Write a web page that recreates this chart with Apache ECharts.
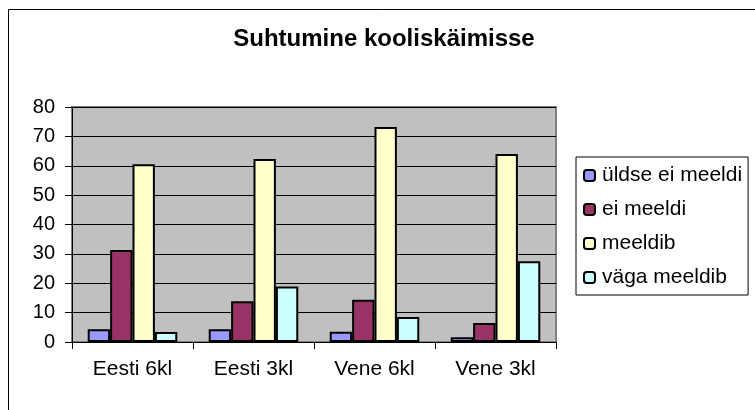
<!DOCTYPE html>
<html>
<head>
	<meta charset="utf-8">
	<title>Suhtumine kooliskäimisse</title>
	<script src="https://cdn.jsdelivr.net/npm/echarts@6/dist/echarts.min.js"></script>
	<style>
		html, body { margin: 0; padding: 0; background: #fff; }
		#main { width: 755px; height: 410px; }
	</style>
</head>
<body>
	<div id="main"></div>
	<script>
		// andmed
		var categories = ['Eesti 6kl', 'Eesti 3kl', 'Vene 6kl', 'Vene 3kl'];
		var yldseEiMeeldi = [4.3, 4.3, 3.5, 1.6];
		var eiMeeldi = [31.3, 13.9, 14.4, 6.5];
		var meeldib = [60.5, 62.3, 73.2, 64];
		var vagaMeeldib = [3.4, 18.9, 8.5, 27.5];
		var yTicks = [0, 10, 20, 30, 40, 50, 60, 70, 80];

		var font = '"Liberation Sans", Arial, sans-serif';
		var names = ['üldse ei meeldi', 'ei meeldi', 'meeldib', 'väga meeldib'];
		var colors = ['#9999FF', '#993366', '#FFFFCC', '#CCFFFF'];
		var values = [yldseEiMeeldi, eiMeeldi, meeldib, vagaMeeldib];

		var series = [];
		for (var i = 0; i < names.length; i++) {
			series.push({
				name: names[i],
				type: 'bar',
				data: values[i],
				barGap: '0%',
				barCategoryGap: '26%',
				itemStyle: { color: colors[i], borderColor: '#000', borderWidth: 2 }
			});
		}

		var myChart = echarts.init(document.getElementById('main'));
		myChart.setOption({
			animation: false,
			backgroundColor: '#fff',
			textStyle: { fontFamily: font },
			graphic: [{
				type: 'rect',
				shape: { x: 8.5, y: 9.5, width: 800, height: 500 },
				style: { fill: 'none', stroke: '#000', lineWidth: 1 },
				silent: true
			}],
			title: {
				text: 'Suhtumine kooliskäimisse',
				left: 384,
				top: 27,
				textAlign: 'center',
				padding: 0,
				textStyle: { fontFamily: font, fontWeight: 'bold', fontSize: 24, color: '#000' }
			},
			legend: {
				orient: 'vertical',
				left: 576,
				top: 157,
				padding: [8, 6, 7, 7],
				itemWidth: 11,
				itemHeight: 11,
				itemGap: 13,
				borderColor: '#000',
				borderWidth: 1,
				backgroundColor: '#fff',
				data: names,
				itemStyle: { borderColor: '#000', borderWidth: 2 },
				textStyle: { fontFamily: font, fontSize: 21, color: '#000', lineHeight: 20, padding: [0, 0, 0, 2] }
			},
			grid: {
				left: 72,
				top: 107,
				right: 199,
				bottom: 68,
				show: true,
				backgroundColor: '#C0C0C0',
				borderColor: '#808080',
				borderWidth: 2
			},
			xAxis: {
				type: 'category',
				data: categories,
				axisLine: { lineStyle: { color: '#000', width: 1 } },
				axisTick: { show: true, length: 7, lineStyle: { color: '#000' } },
				axisLabel: { color: '#000', fontSize: 21, fontFamily: font, margin: 17 }
			},
			yAxis: {
				type: 'value',
				min: yTicks[0],
				max: yTicks[yTicks.length - 1],
				interval: 10,
				axisLine: { show: true, lineStyle: { color: '#000', width: 1 } },
				axisTick: { show: true, length: 7, lineStyle: { color: '#000' } },
				axisLabel: { color: '#000', fontSize: 20, fontFamily: font, margin: 17 },
				splitLine: { show: true, lineStyle: { color: '#000', width: 1 } }
			},
			series: series
		});
	</script>
</body>
</html>
